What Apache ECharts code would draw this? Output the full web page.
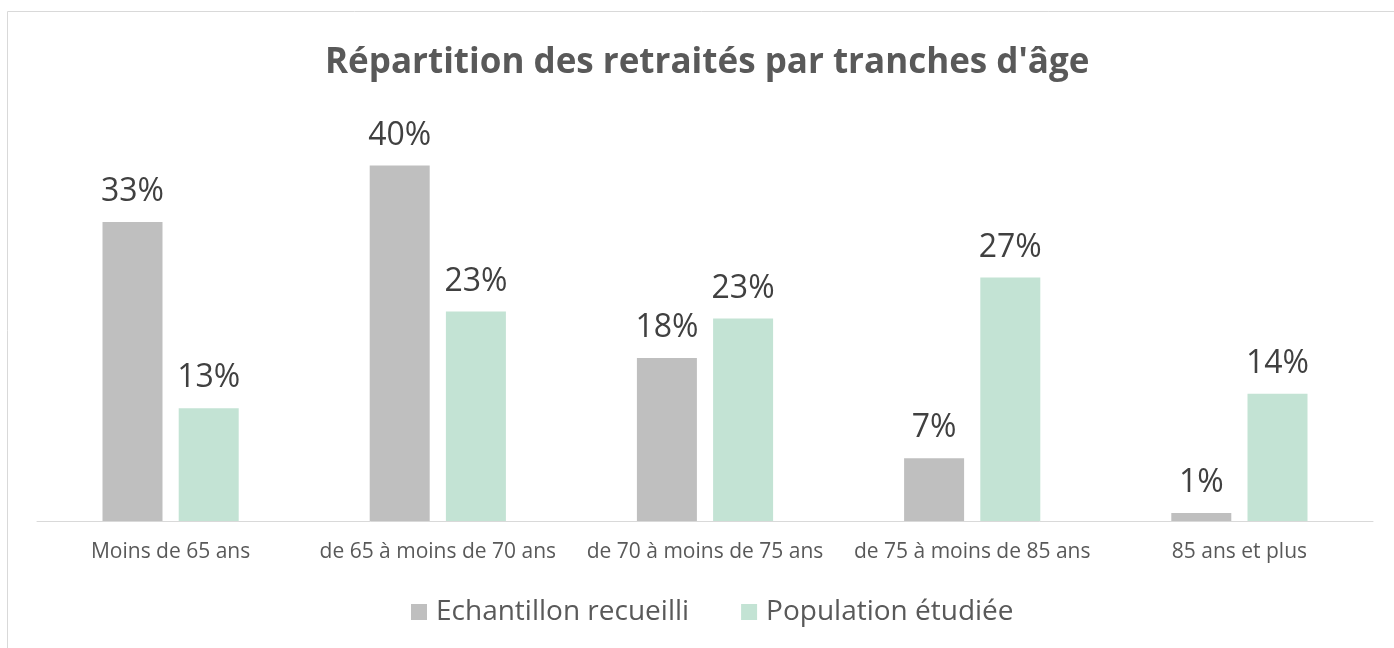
<!DOCTYPE html>
<html><head><meta charset="utf-8">
<script src="https://cdn.jsdelivr.net/npm/echarts@6/dist/echarts.min.js"></script>
<style>html,body{margin:0;padding:0;background:#fff}#c{width:1394px;height:648px}</style>
</head><body><div id="c"></div>
<script>
const titleText = "Répartition des retraités par tranches d'âge";
const categories = ["Moins de 65 ans", "de 65 à moins de 70 ans", "de 70 à moins de 75 ans", "de 75 à moins de 85 ans", "85 ans et plus"];
const seriesNames = ["Echantillon recueilli", "Population étudiée"];
const echantillon = [33.4, 39.7, 18.2, 7.0, 0.9];
const population = [12.6, 23.4, 22.6, 27.2, 14.2];

const chart = echarts.init(document.getElementById('c'), null, {renderer: 'canvas'});
const font = '"Open Sans", "Liberation Sans", sans-serif';
const labelCfg = {
  show: true, position: 'top', distance: 14,
  color: '#404040', fontSize: 32, fontFamily: font,
  formatter: p => Math.round(p.value) + '%'
};
chart.setOption({
  animation: false,
  graphic: [{type: 'rect', shape: {x: 7.5, y: 11.5, width: 1500, height: 800},
    style: {fill: 'none', stroke: '#d9d9d9', lineWidth: 1}, silent: true}],
  title: {text: titleText, left: 325, top: 46, padding: 0,
    textStyle: {color: '#595959', fontSize: 35, fontWeight: 'bold', fontFamily: font}},
  legend: {data: seriesNames, top: 593, left: 406, itemWidth: 16, itemHeight: 16, itemGap: 52,
    icon: 'rect', textStyle: {color: '#595959', fontSize: 28, fontFamily: font, padding: [0,0,0,4]}},
  grid: {left: 37, right: 21, top: 118, bottom: 127, containLabel: false, outerBoundsMode: 'none'},
  xAxis: {type: 'category', data: categories,
    axisLine: {lineStyle: {color: '#d9d9d9', width: 1}}, axisTick: {show: false},
    axisLabel: {color: '#595959', fontSize: 21, fontFamily: font, margin: 21, interval: 0}},
  yAxis: {type: 'value', min: 0, max: 45, show: false, splitLine: {show: false}},
  series: [
    {name: seriesNames[0], type: 'bar', data: echantillon, barWidth: 60, barGap: '27%',
     itemStyle: {color: '#bfbfbf'}, label: labelCfg},
    {name: seriesNames[1], type: 'bar', data: population, barWidth: 60, barGap: '27%',
     itemStyle: {color: '#c3e3d4'}, label: labelCfg}
  ]
});
</script></body></html>
